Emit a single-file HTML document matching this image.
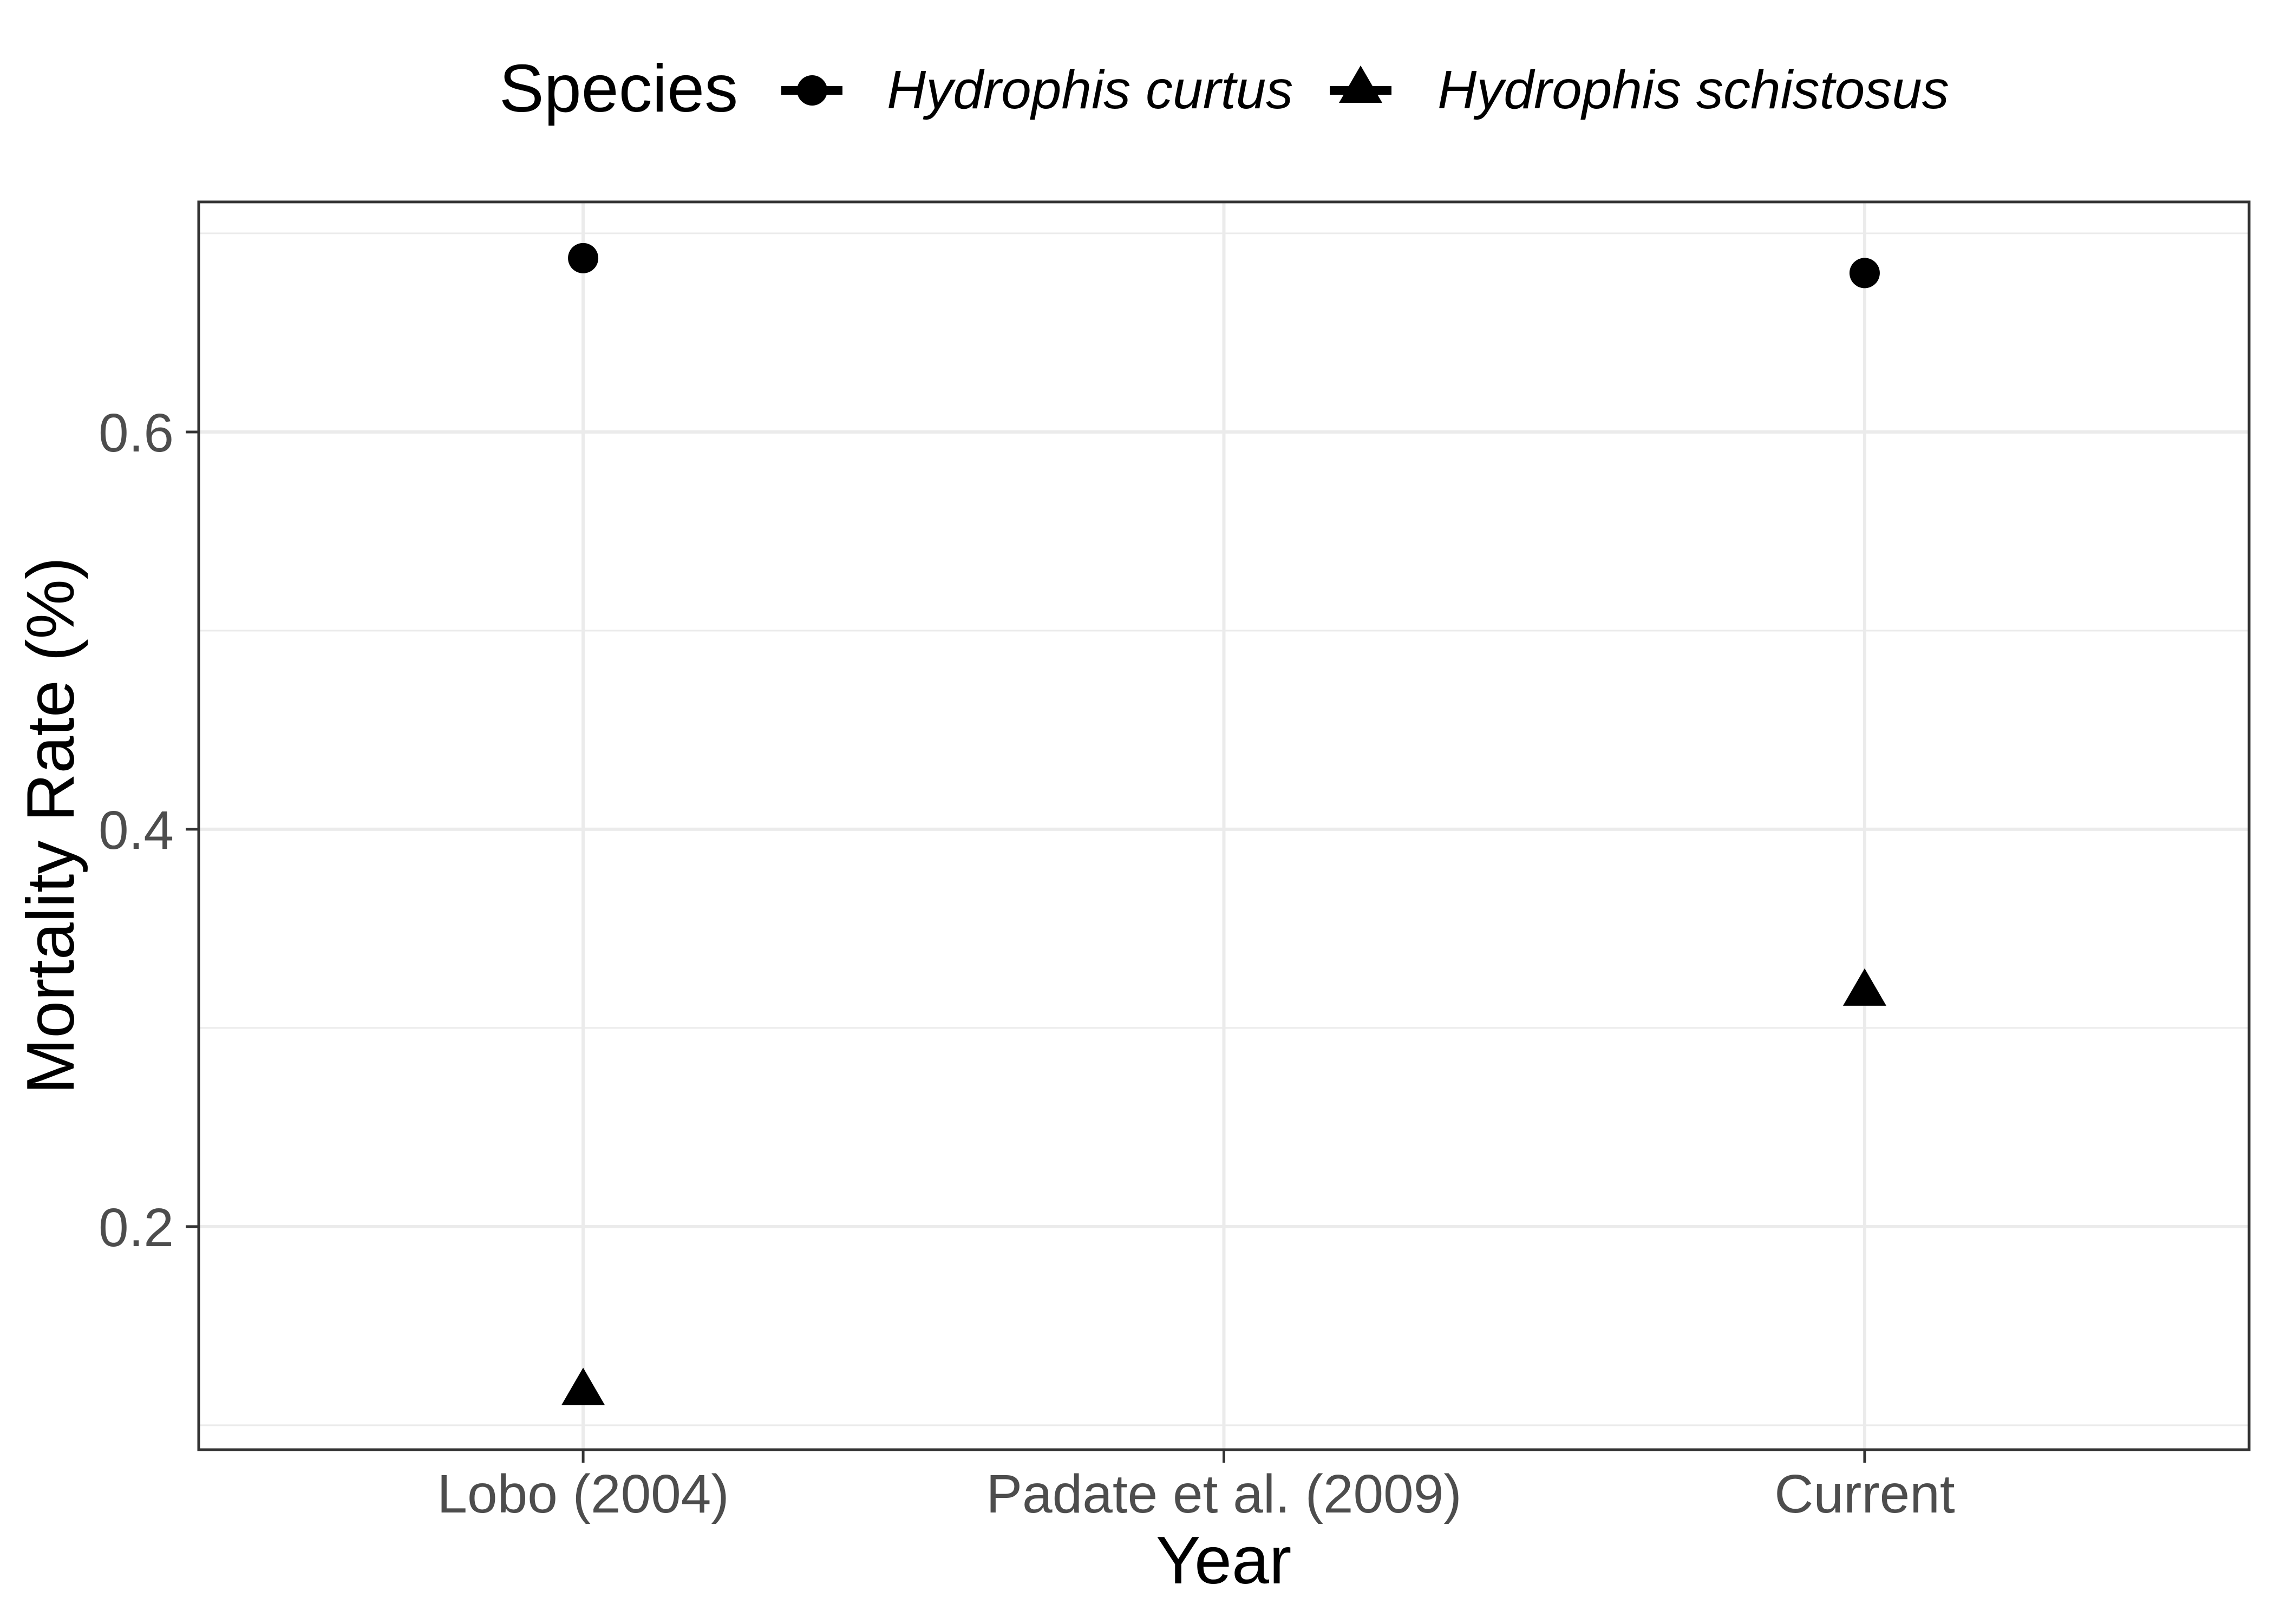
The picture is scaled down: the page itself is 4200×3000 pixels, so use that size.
<!DOCTYPE html>
<html><head><meta charset="utf-8"><style>
html,body{margin:0;padding:0;background:#fff;}
svg{display:block;font-family:"Liberation Sans",Arial,sans-serif;}
</style></head><body>
<svg id="chart" width="4200" height="3000" viewBox="0 0 4200 3000" xmlns="http://www.w3.org/2000/svg">
<rect width="4200" height="3000" fill="#fff"/>
<g id="grid"></g>
<g id="marks"></g>
<rect x="367" y="373" width="3787" height="2305" fill="none" stroke="#333" stroke-width="5"/>
<g id="axes"></g>
<text transform="translate(136,1525) rotate(-90)" text-anchor="middle" font-size="124" fill="#000">Mortality Rate (%)</text>
<text x="2260" y="2925" text-anchor="middle" font-size="124" fill="#000">Year</text>
<g>
<text x="922" y="206" font-size="124" fill="#000">Species</text>
<g>
<line x1="1443" y1="167" x2="1556" y2="167" stroke="#000" stroke-width="16"/>
<circle cx="1500" cy="167" r="28" fill="#000"/>
</g>
<text x="1638" y="200" font-size="100" font-style="italic" fill="#000">Hydrophis curtus</text>
<g>
<line x1="2456" y1="167" x2="2570" y2="167" stroke="#000" stroke-width="16"/>
<polygon points="2513,121 2553,190 2473,190" fill="#000"/>
</g>
<text x="2655" y="200" font-size="100" font-style="italic" fill="#000">Hydrophis schistosus</text>
</g>
</svg>
<script>
const categories = ["Lobo (2004)", "Padate et al. (2009)", "Current"];
const curtusValues = [0.6875, null, 0.680];
const schistosusValues = [0.117, null, 0.318];
const yTicks = [0.2, 0.4, 0.6];
const yMinorTicks = [0.1, 0.3, 0.5, 0.7];
const yTickLabels = ["0.2", "0.4", "0.6"];

const NS = "http://www.w3.org/2000/svg";
const P = {l:367, r:4154, t:373, b:2678};
const yMin = 0.0877, yMax = 0.7158;
function xScale(i){ const lo=0.4, hi=categories.length+0.6; return P.l + ((i+1)-lo)/(hi-lo)*(P.r-P.l); }
function yScale(v){ return P.b - (v-yMin)/(yMax-yMin)*(P.b-P.t); }
function mk(tag, attrs, parent){ const e=document.createElementNS(NS,tag); for(const k in attrs) e.setAttribute(k,attrs[k]); parent.appendChild(e); return e; }
const grid=document.getElementById('grid'), marks=document.getElementById('marks'), axes=document.getElementById('axes');

yMinorTicks.forEach(v=>{
  const y=yScale(v);
  const l=mk('line',{x1:P.l,x2:P.r,y1:y,y2:y,stroke:'#ebebeb','stroke-width':3},grid);
  
  
});
yTicks.forEach((v,i)=>{
  const y=yScale(v);
  const l=mk('line',{x1:P.l,x2:P.r,y1:y,y2:y,stroke:'#ebebeb','stroke-width':6},grid);
  
  
  const t=mk('line',{x1:P.l-24,x2:P.l,y1:y,y2:y,stroke:'#333','stroke-width':5},axes);
  
  
  const tx=mk('text',{x:321,y:y+36,'text-anchor':'end','font-size':100,fill:'#4d4d4d'},axes);
  tx.textContent=yTickLabels[i];
  
  
});
categories.forEach((c,i)=>{
  const x=xScale(i);
  const l=mk('line',{x1:x,x2:x,y1:P.t,y2:P.b,stroke:'#ebebeb','stroke-width':6},grid);
  
  
  const t=mk('line',{x1:x,x2:x,y1:P.b,y2:P.b+24,stroke:'#333','stroke-width':5},axes);
  
  
  const tx=mk('text',{x:x,y:2794,'text-anchor':'middle','font-size':100,fill:'#4d4d4d'},axes);
  tx.textContent=c;
  
  
});
curtusValues.forEach((v,i)=>{
  if(v===null) return;
  const c=mk('circle',{cx:xScale(i),cy:yScale(v),r:28,fill:'#000'},marks);
  
  
});
schistosusValues.forEach((v,i)=>{
  if(v===null) return;
  const x=xScale(i), y=yScale(v);
  const p=mk('polygon',{points:`${x},${y-44} ${x+40},${y+25} ${x-40},${y+25}`,fill:'#000'},marks);
  
  
});
</script>
</body></html>
